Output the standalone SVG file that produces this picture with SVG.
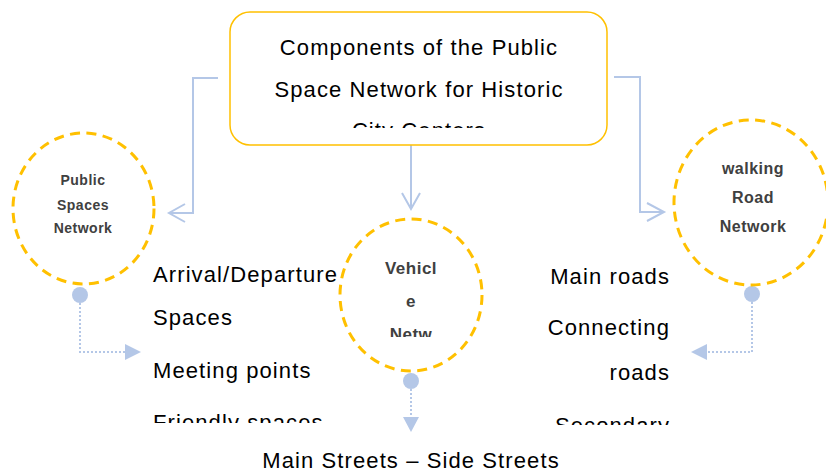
<svg xmlns="http://www.w3.org/2000/svg" width="826" height="474" viewBox="0 0 826 474">
<style>
.main{font-family:"Liberation Sans",Arial,sans-serif;font-size:22px;fill:#000;letter-spacing:1.1px}
.node{font-family:"Liberation Sans",Arial,sans-serif;font-weight:bold;fill:#404040;text-anchor:middle;letter-spacing:0.5px}
.ring{fill:#fff;stroke:#FFC000;stroke-width:3;stroke-dasharray:10 6.5}
.conn{fill:none;stroke:#B4C7E7;stroke-width:2}
.dot{fill:none;stroke:#B4C7E7;stroke-width:2;stroke-dasharray:2 2}
.tri{fill:#B4C7E7}
</style>
<defs>
<clipPath id="cTitle"><rect x="230" y="12" width="377" height="116"/></clipPath>
<clipPath id="cVeh"><rect x="340" y="220" width="142" height="117"/></clipPath>
<clipPath id="cLeft"><rect x="140" y="250" width="200" height="173"/></clipPath>
<clipPath id="cRight"><rect x="530" y="250" width="150" height="175"/></clipPath>
</defs>
<rect width="826" height="474" fill="#fff"/>
<g id="connectors">
<path class="conn" d="M218 78 H193 V213 H169"/>
<path class="conn" d="M185 204 L169 213 L185 222"/>
<path class="conn" d="M614 77 H640 V212 H664"/>
<path class="conn" d="M647 203 L664 212 L647 221"/>
<path class="conn" d="M411 145 V209"/>
<path class="conn" d="M402 193 L411 209 L420 193"/>
<path class="dot" d="M80 303 V352 H126"/>
<polygon class="tri" points="125,344 141,352 125,360"/>
<path class="dot" d="M752 302 V352 H706"/>
<polygon class="tri" points="707,344 691,352 707,360"/>
<path class="dot" d="M411 389 V418"/>
<polygon class="tri" points="403,417 419,417 411,432"/>
<circle cx="80" cy="295" r="8" fill="#B4C7E7"/>
<circle cx="411" cy="381" r="8" fill="#B4C7E7"/>
<circle cx="752" cy="294" r="8" fill="#B4C7E7"/>
</g>
<g id="title">
<rect x="230" y="12" width="377" height="133" rx="20" fill="#fff" stroke="#FFC000" stroke-width="1.5"/>
<g clip-path="url(#cTitle)" class="main" text-anchor="middle">
<text x="419" y="55">Components of the Public</text>
<text x="419" y="97">Space Network for Historic</text>
<text x="419" y="138">City Centers</text>
</g>
</g>
<g id="public-spaces">
<ellipse class="ring" cx="83.5" cy="208.5" rx="70.5" ry="75.5"/>
<text class="node" font-size="14" x="83" y="185">Public</text>
<text class="node" font-size="14" x="83" y="210">Spaces</text>
<text class="node" font-size="14" x="83" y="233">Network</text>
</g>
<g id="vehicle">
<ellipse class="ring" cx="411" cy="295" rx="71" ry="76"/>
<g clip-path="url(#cVeh)">
<text class="node" font-size="17" x="411" y="274">Vehicl</text>
<text class="node" font-size="17" x="411" y="307">e</text>
<text class="node" font-size="17" x="411" y="340">Netw</text>
</g>
</g>
<g id="walking">
<ellipse class="ring" cx="751" cy="202.5" rx="77" ry="82.5"/>
<text class="node" font-size="16" x="753" y="174">walking</text>
<text class="node" font-size="16" x="753" y="203">Road</text>
<text class="node" font-size="16" x="753" y="232">Network</text>
</g>
<g id="public-list" clip-path="url(#cLeft)" class="main">
<text x="153" y="282">Arrival/Departure</text>
<text x="153" y="325">Spaces</text>
<text x="153" y="378">Meeting points</text>
<text x="153" y="430">Friendly spaces</text>
</g>
<g id="walking-list" clip-path="url(#cRight)" class="main" text-anchor="end">
<text x="670" y="284">Main roads</text>
<text x="670" y="335">Connecting</text>
<text x="670" y="380">roads</text>
<text x="670" y="433">Secondary</text>
</g>
<g id="vehicle-list">
<text class="main" x="411" y="468" text-anchor="middle">Main Streets – Side Streets</text>
</g>
</svg>
